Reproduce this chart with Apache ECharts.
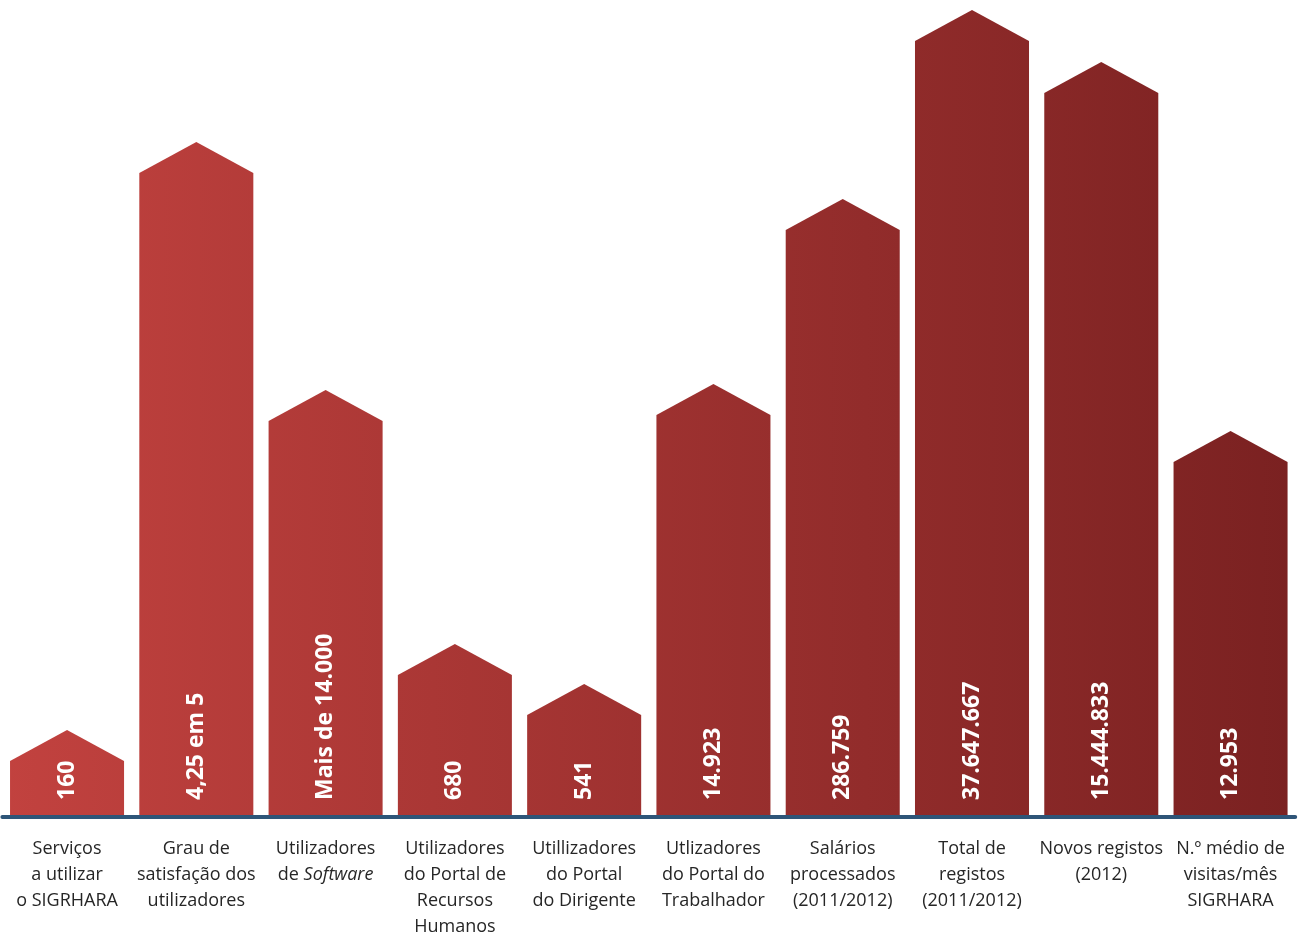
<!DOCTYPE html>
<html>
<head>
<meta charset="utf-8">
<script src="https://cdn.jsdelivr.net/npm/echarts@6/dist/echarts.min.js"></script>
<style>html,body{margin:0;padding:0;background:#fff;overflow:hidden;width:100%;height:100%}#c{width:1298px;height:936px}</style>
</head>
<body>
<div id="c"></div>
<script>
const categories = [
  "Serviços\na utilizar\no SIGRHARA",
  "Grau de\nsatisfação dos\nutilizadores",
  "Utilizadores\nde Software",
  "Utilizadores\ndo Portal de\nRecursos\nHumanos",
  "Utillizadores\ndo Portal\ndo Dirigente",
  "Utlizadores\ndo Portal do\nTrabalhador",
  "Salários\nprocessados\n(2011/2012)",
  "Total de\nregistos\n(2011/2012)",
  "Novos registos\n(2012)",
  "N.º médio de\nvisitas/mês\nSIGRHARA"
];
const valueLabels = ["160", "4,25 em 5", "Mais de 14.000", "680", "541", "14.923", "286.759", "37.647.667", "15.444.833", "12.953"];
// visual bar heights (apex), as drawn in the reference
const barHeights = [87, 675, 427, 173, 133, 433, 618, 807, 755, 386];

const dom = document.getElementById('c');
const chart = echarts.init(dom, null, {renderer: 'canvas'});
const fillGrad = new echarts.graphic.LinearGradient(0, 0, 1298, 0, [
  {offset: 0, color: '#c2423f'},
  {offset: 1, color: '#7a2121'}
], true);

chart.setOption({
  animation: false,
  backgroundColor: '#ffffff',
  grid: {left: 2.4, right: 2.8, top: 0, bottom: 119, containLabel: false, outerBoundsMode: 'none'},
  xAxis: {
    type: 'category',
    data: categories,
    z: 5,
    axisTick: {show: false},
    axisLine: {lineStyle: {color: '#2e5578', width: 4}},
    axisLabel: {
      interval: 0,
      margin: 19,
      color: '#262626',
      fontFamily: 'Open Sans',
      fontSize: 18,
      lineHeight: 26,
      formatter: function (v) { return v.replace('Software', '{i|Software}'); },
      rich: {
        i: {fontStyle: 'italic', fontFamily: 'Open Sans', fontSize: 18, lineHeight: 26, color: '#262626'}
      }
    }
  },
  yAxis: {type: 'value', min: 0, max: 817, show: false},
  series: [{
    type: 'custom',
    data: barHeights.map((h, i) => [i, h]),
    renderItem: function (params, api) {
      const idx = api.value(0);
      const base = api.coord([idx, 0]);
      const top = api.coord([idx, api.value(1)]);
      const bw = api.size([1, 0])[0] * 0.882;
      const roof = 31;
      const cx = base[0];
      const l = cx - bw / 2, r = cx + bw / 2;
      return {
        type: 'group',
        children: [{
          type: 'polygon',
          shape: {points: [[l, base[1]], [l, top[1] + roof], [cx, top[1]], [r, top[1] + roof], [r, base[1]]]},
          style: {fill: fillGrad}
        }, {
          type: 'text',
          x: cx,
          y: base[1] - 17,
          rotation: Math.PI / 2,
          style: {
            text: valueLabels[params.dataIndex],
            fill: '#ffffff',
            font: 'bold 23px "Open Sans"',
            align: 'left',
            verticalAlign: 'middle'
          }
        }]
      };
    }
  }]
});
</script>
</body>
</html>
